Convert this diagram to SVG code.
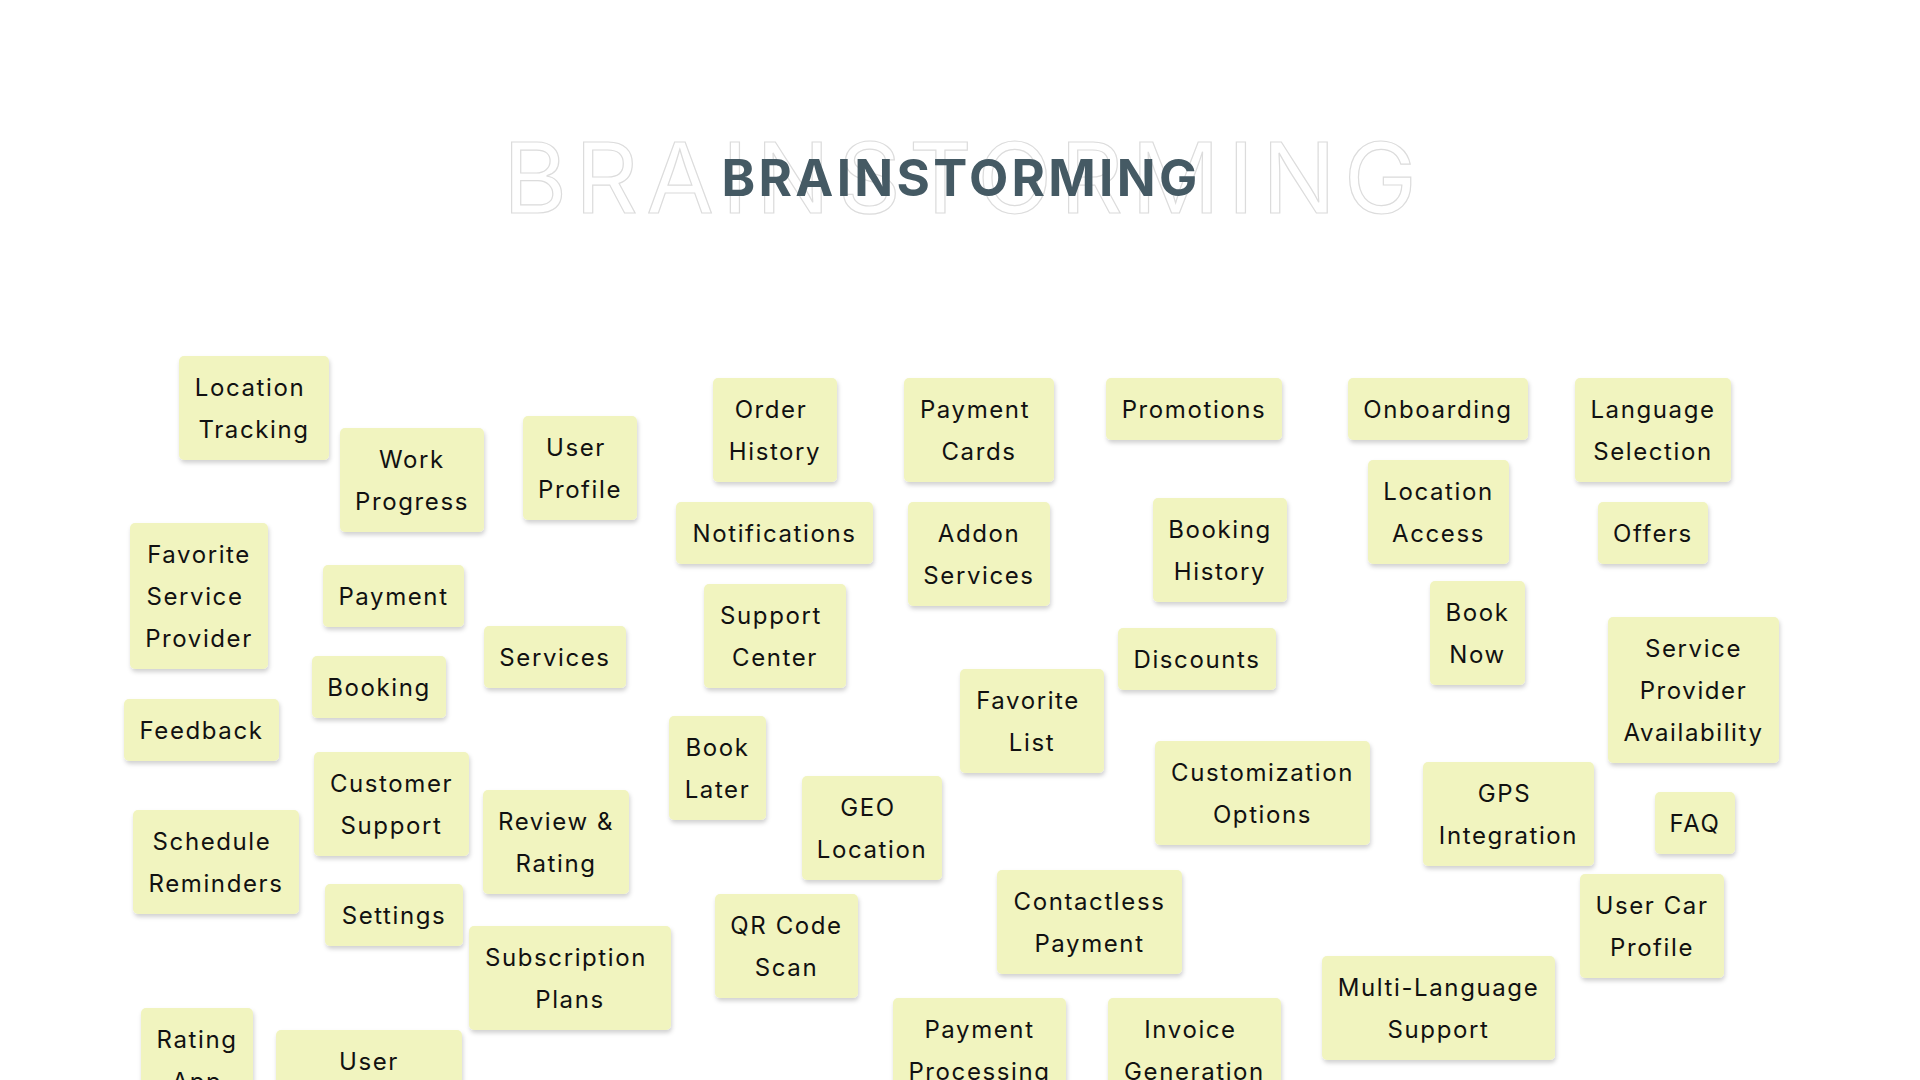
<svg xmlns="http://www.w3.org/2000/svg" width="1920" height="1080" viewBox="0 0 1920 1080">
<defs>
<filter id="sh" x="-10%" y="-10%" width="125%" height="130%">
<feDropShadow dx="1" dy="3" stdDeviation="2" flood-color="#000" flood-opacity="0.18"/>
</filter>
<style>
.n rect{fill:#F1F4BF;filter:url(#sh)}
.n text{font-family:Inter,"Noto Sans","Liberation Sans",sans-serif;font-size:24px;letter-spacing:1.6px;fill:#111111;text-anchor:middle}
.ghost{font-family:Inter,"Noto Sans","Liberation Sans",sans-serif;font-size:98px;font-weight:400;letter-spacing:8px;fill:none;stroke:#DCDCDC;stroke-width:1.2;text-anchor:middle}
.title{font-family:Inter,"Noto Sans","Liberation Sans",sans-serif;font-size:51px;font-weight:700;letter-spacing:3.3px;fill:#455A64;text-anchor:middle}
</style>
</defs>
<rect width="1920" height="1080" fill="#FFFFFF"/>
<g id="title">
<text class="ghost" x="964" y="213">BRAINSTORMING</text>
<text class="title" x="961" y="196">BRAINSTORMING</text>
</g>
<g id="connectors"/>
<g id="n-location-tracking" class="n"><rect x="179" y="356" width="150" height="104" rx="5"/><text x="250" y="396">Location</text><text x="254" y="438">Tracking</text></g>
<g id="n-work-progress" class="n"><rect x="340" y="428" width="144" height="104" rx="5"/><text x="412" y="468">Work</text><text x="412" y="510">Progress</text></g>
<g id="n-user-profile" class="n"><rect x="523" y="416" width="114" height="104" rx="5"/><text x="576" y="456">User</text><text x="580" y="498">Profile</text></g>
<g id="n-order-history" class="n"><rect x="713" y="378" width="124" height="104" rx="5"/><text x="771" y="418">Order</text><text x="775" y="460">History</text></g>
<g id="n-payment-cards" class="n"><rect x="904" y="378" width="150" height="104" rx="5"/><text x="975" y="418">Payment</text><text x="979" y="460">Cards</text></g>
<g id="n-promotions" class="n"><rect x="1106" y="378" width="176" height="62" rx="5"/><text x="1194" y="418">Promotions</text></g>
<g id="n-onboarding" class="n"><rect x="1348" y="378" width="180" height="62" rx="5"/><text x="1438" y="418">Onboarding</text></g>
<g id="n-language-selection" class="n"><rect x="1575" y="378" width="156" height="104" rx="5"/><text x="1653" y="418">Language</text><text x="1653" y="460">Selection</text></g>
<g id="n-notifications" class="n"><rect x="676" y="502" width="197" height="62" rx="5"/><text x="774.5" y="542">Notifications</text></g>
<g id="n-addon-services" class="n"><rect x="908" y="502" width="142" height="104" rx="5"/><text x="979" y="542">Addon</text><text x="979" y="584">Services</text></g>
<g id="n-booking-history" class="n"><rect x="1153" y="498" width="134" height="104" rx="5"/><text x="1220" y="538">Booking</text><text x="1220" y="580">History</text></g>
<g id="n-location-access" class="n"><rect x="1368" y="460" width="141" height="104" rx="5"/><text x="1438.5" y="500">Location</text><text x="1438.5" y="542">Access</text></g>
<g id="n-offers" class="n"><rect x="1598" y="502" width="110" height="62" rx="5"/><text x="1653" y="542">Offers</text></g>
<g id="n-favorite-service-provider" class="n"><rect x="130" y="523" width="138" height="146" rx="5"/><text x="199" y="563">Favorite</text><text x="195" y="605">Service</text><text x="199" y="647">Provider</text></g>
<g id="n-payment" class="n"><rect x="323" y="565" width="141" height="62" rx="5"/><text x="393.5" y="605">Payment</text></g>
<g id="n-support-center" class="n"><rect x="704" y="584" width="142" height="104" rx="5"/><text x="771" y="624">Support</text><text x="775" y="666">Center</text></g>
<g id="n-book-now" class="n"><rect x="1430" y="581" width="95" height="104" rx="5"/><text x="1477.5" y="621">Book</text><text x="1477.5" y="663">Now</text></g>
<g id="n-services" class="n"><rect x="484" y="626" width="142" height="62" rx="5"/><text x="555" y="666">Services</text></g>
<g id="n-discounts" class="n"><rect x="1118" y="628" width="158" height="62" rx="5"/><text x="1197" y="668">Discounts</text></g>
<g id="n-service-provider-availability" class="n"><rect x="1608" y="617" width="171" height="146" rx="5"/><text x="1693.5" y="657">Service</text><text x="1693.5" y="699">Provider</text><text x="1693.5" y="741">Availability</text></g>
<g id="n-booking" class="n"><rect x="312" y="656" width="134" height="62" rx="5"/><text x="379" y="696">Booking</text></g>
<g id="n-feedback" class="n"><rect x="124" y="699" width="155" height="62" rx="5"/><text x="201.5" y="739">Feedback</text></g>
<g id="n-favorite-list" class="n"><rect x="960" y="669" width="144" height="104" rx="5"/><text x="1028" y="709">Favorite</text><text x="1032" y="751">List</text></g>
<g id="n-book-later" class="n"><rect x="669" y="716" width="97" height="104" rx="5"/><text x="717.5" y="756">Book</text><text x="717.5" y="798">Later</text></g>
<g id="n-customer-support" class="n"><rect x="314" y="752" width="155" height="104" rx="5"/><text x="391.5" y="792">Customer</text><text x="391.5" y="834">Support</text></g>
<g id="n-customization-options" class="n"><rect x="1155" y="741" width="215" height="104" rx="5"/><text x="1262.5" y="781">Customization</text><text x="1262.5" y="823">Options</text></g>
<g id="n-gps-integration" class="n"><rect x="1423" y="762" width="171" height="104" rx="5"/><text x="1504.5" y="802">GPS</text><text x="1508.5" y="844">Integration</text></g>
<g id="n-faq" class="n"><rect x="1655" y="792" width="80" height="62" rx="5"/><text x="1695" y="832">FAQ</text></g>
<g id="n-geo-location" class="n"><rect x="802" y="776" width="140" height="104" rx="5"/><text x="868" y="816">GEO</text><text x="872" y="858">Location</text></g>
<g id="n-schedule-reminders" class="n"><rect x="133" y="810" width="166" height="104" rx="5"/><text x="212" y="850">Schedule</text><text x="216" y="892">Reminders</text></g>
<g id="n-review-rating" class="n"><rect x="483" y="790" width="146" height="104" rx="5"/><text x="556" y="830">Review &amp;</text><text x="556" y="872">Rating</text></g>
<g id="n-settings" class="n"><rect x="325" y="884" width="138" height="62" rx="5"/><text x="394" y="924">Settings</text></g>
<g id="n-contactless-payment" class="n"><rect x="997" y="870" width="185" height="104" rx="5"/><text x="1089.5" y="910">Contactless</text><text x="1089.5" y="952">Payment</text></g>
<g id="n-user-car-profile" class="n"><rect x="1580" y="874" width="144" height="104" rx="5"/><text x="1652" y="914">User Car</text><text x="1652" y="956">Profile</text></g>
<g id="n-qr-code-scan" class="n"><rect x="715" y="894" width="143" height="104" rx="5"/><text x="786.5" y="934">QR Code</text><text x="786.5" y="976">Scan</text></g>
<g id="n-subscription-plans" class="n"><rect x="469" y="926" width="202" height="104" rx="5"/><text x="566" y="966">Subscription</text><text x="570" y="1008">Plans</text></g>
<g id="n-multi-language-support" class="n"><rect x="1322" y="956" width="233" height="104" rx="5"/><text x="1438.5" y="996">Multi-Language</text><text x="1438.5" y="1038">Support</text></g>
<g id="n-payment-processing" class="n"><rect x="893" y="998" width="173" height="104" rx="5"/><text x="979.5" y="1038">Payment</text><text x="979.5" y="1080">Processing</text></g>
<g id="n-invoice-generation" class="n"><rect x="1108" y="998" width="173" height="104" rx="5"/><text x="1190.5" y="1038">Invoice</text><text x="1194.5" y="1080">Generation</text></g>
<g id="n-rating-app" class="n"><rect x="141" y="1008" width="112" height="104" rx="5"/><text x="197" y="1048">Rating</text><text x="197" y="1090">App</text></g>
<g id="n-user" class="n"><rect x="276" y="1030" width="186" height="104" rx="5"/><text x="369" y="1070">User</text></g>
</svg>
